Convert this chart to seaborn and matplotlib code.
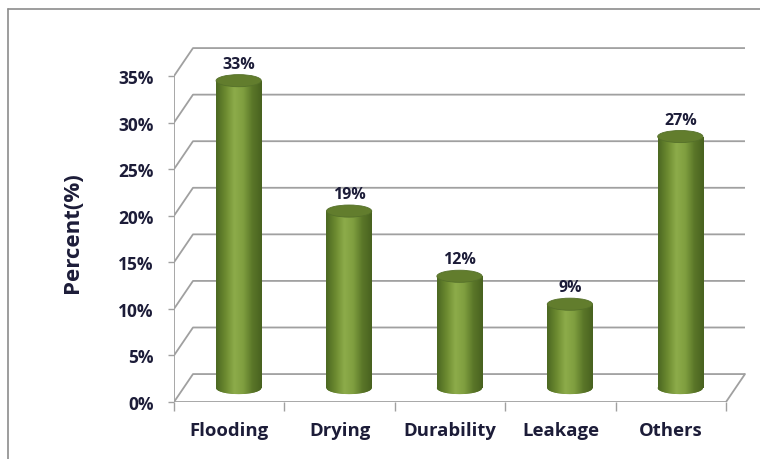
import numpy as np
import pandas as pd
import seaborn as sns
from matplotlib import pyplot as plt
from matplotlib.colors import LinearSegmentedColormap
from matplotlib.lines import Line2D
from matplotlib.patches import Ellipse

categories = ["Flooding", "Drying", "Durability", "Leakage", "Others"]
percents = [33, 19, 12, 9, 27]
y_ticks = [0, 5, 10, 15, 20, 25, 30, 35]
y_tick_labels = ["0%", "5%", "10%", "15%", "20%", "25%", "30%", "35%"]

df = pd.DataFrame({"cause": categories, "percent": percents})

sns.set_theme(style="white")
plt.rcParams["font.family"] = ["Open Sans", "DejaVu Sans"]
plt.rcParams["font.weight"] = "bold"

text_col = "#1c1c38"
grid_col = "#a0a0a0"

# oblique "3d" offset of the back wall, in data units
DX = 0.172
DY = 3.0
bar_w = 0.41
ell_h = 1.3

fig = plt.figure(figsize=(7.6, 4.6), dpi=100)
ax = fig.add_axes([174 / 760, 57 / 460, 586 / 760, 373 / 460])

sns.barplot(data=df, x="cause", y="percent", color="#6f8c33", width=bar_w,
            ax=ax, zorder=3, linewidth=0)

body_cmap = LinearSegmentedColormap.from_list(
    "cyl", ["#4c6822", "#6c8a30", "#8dac4a", "#7f9e3f", "#5a7628", "#48621f"])
grad = np.linspace(0, 1, 64).reshape(1, -1)

for p, v in zip(ax.patches, percents):
    p.set_x(p.get_x() + DX / 2)
    p.set_y(DY / 2)
    x0, w = p.get_x(), p.get_width()
    cx = x0 + w / 2
    bottom = Ellipse((cx, DY / 2), w, ell_h, facecolor="#5f7b2a", zorder=2.9,
                     linewidth=0)
    ax.add_patch(bottom)
    for clip in (p, bottom):
        im = ax.imshow(grad, cmap=body_cmap, aspect="auto", zorder=3.1,
                       extent=[x0, x0 + w, DY / 2 - ell_h, DY / 2 + v],
                       interpolation="bicubic")
        im.set_clip_path(clip)
    top = Ellipse((cx, DY / 2 + v), w, ell_h, facecolor="#627d2d",
                  edgecolor="#55702a", linewidth=0.6, zorder=4)
    ax.add_patch(top)
    ax.text(cx, DY / 2 + v + ell_h / 2 + 0.3, f"{v}%", ha="center",
            va="bottom", fontsize=11.5, fontweight="bold", color=text_col,
            zorder=5)

# walls and floor
n = len(categories)
for t in y_ticks:
    ax.plot([-0.5, -0.5 + DX, n - 0.5 + DX], [t, t + DY, t + DY],
            color=grid_col, lw=1.3, zorder=1, solid_capstyle="butt")
ax.plot([-0.5, n - 0.5, n - 0.5 + DX], [0, 0, DY], color=grid_col, lw=1.3,
        zorder=1)
ax.plot([-0.5, -0.5], [0, y_ticks[-1]], color=grid_col, lw=1.3, zorder=1)

for s in ax.spines.values():
    s.set_visible(False)

ax.set_xlim(-0.5, -0.5 + 586 / 110.4)
ax.set_ylim(0, 373 / 9.314)

ax.set_yticks(y_ticks)
ax.set_yticklabels(y_tick_labels)
ax.tick_params(axis="y", direction="out", length=4.5, width=1, color=grid_col,
               pad=10, labelsize=12.5, labelcolor=text_col, left=True)

ax.set_xticks(np.arange(n + 1) - 0.5)
ax.set_xticklabels([""] * (n + 1))
ax.set_xticks(np.arange(n), minor=True)
ax.set_xticklabels(categories, minor=True)
ax.tick_params(axis="x", which="major", direction="out", length=6.5, width=1,
               color=grid_col, bottom=True)
ax.tick_params(axis="x", which="minor", length=0, pad=14, labelsize=13.3,
               labelcolor=text_col)
for lab in ax.get_xticklabels(minor=True) + ax.get_yticklabels():
    lab.set_fontweight("bold")

ax.set_xlabel("")
ax.set_ylabel("Percent(%)", fontsize=16, fontweight="bold", color=text_col)
ax.yaxis.set_label_coords(-0.155, 0.456)

# outer frame
fig.add_artist(Line2D([8 / 760, 8 / 760], [0, 1 - 10 / 460], color="#8c8c8c",
                      lw=1.2))
fig.add_artist(Line2D([8 / 760, 1], [1 - 10 / 460, 1 - 10 / 460],
                      color="#8c8c8c", lw=1.2))

fig.savefig("out.png", dpi=100)
